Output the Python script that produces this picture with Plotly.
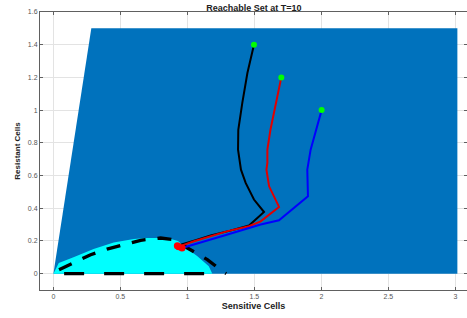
import plotly.graph_objects as go

# Reachable set (blue) polygon
reach_x = [0.0, 0.283, 3.015, 3.015, 0.0]
reach_y = [0.0, 1.5, 1.5, 0.0, 0.0]

# Target set (cyan) polygon
target_x = [0.0, 0.04, 0.15, 0.30, 0.45, 0.60, 0.70, 0.85, 0.93, 0.975, 1.075, 1.16, 1.186, 0.0]
target_y = [0.0, 0.065, 0.10, 0.15, 0.19, 0.212, 0.218, 0.218, 0.20, 0.167, 0.106, 0.045, 0.0, 0.0]

# Dashed boundary curve
bound_x = [0.042, 0.154, 0.278, 0.40, 0.527, 0.651, 0.80, 0.90, 1.0, 1.149, 1.273, 1.29]
bound_y = [0.024, 0.069, 0.116, 0.15, 0.177, 0.204, 0.218, 0.208, 0.157, 0.086, 0.008, 0.0]
base_x = [0.08, 1.16]
base_y = [0.0, 0.0]

# Trajectories
black_x = [1.497, 1.448, 1.41, 1.38, 1.378, 1.40, 1.435, 1.497, 1.572, 1.46, 1.32, 1.174, 1.05, 0.95, 0.925]
black_y = [1.40, 1.227, 1.044, 0.88, 0.758, 0.636, 0.555, 0.453, 0.377, 0.294, 0.263, 0.234, 0.202, 0.177, 0.171]
red_x = [1.701, 1.66, 1.62, 1.597, 1.597, 1.59, 1.61, 1.684, 1.547, 1.46, 1.30, 1.05, 0.95, 0.935]
red_y = [1.20, 1.044, 0.88, 0.758, 0.677, 0.636, 0.534, 0.408, 0.32, 0.29, 0.26, 0.198, 0.168, 0.165]
blue_x = [2.002, 1.945, 1.92, 1.895, 1.90, 1.684, 1.547, 1.30, 1.05, 0.96]
blue_y = [1.0, 0.82, 0.758, 0.636, 0.473, 0.326, 0.30, 0.239, 0.177, 0.157]

x_ticks = [0, 0.5, 1, 1.5, 2, 2.5, 3]
x_tick_text = ["0", "0.5", "1", "1.5", "2", "2.5", "3"]
y_ticks = [0, 0.2, 0.4, 0.6, 0.8, 1.0, 1.2, 1.4, 1.6]
y_tick_text = ["0", "0.2", "0.4", "0.6", "0.8", "1", "1.2", "1.4", "1.6"]

fig = go.Figure()
fig.add_trace(go.Scatter(x=reach_x, y=reach_y, fill="toself", fillcolor="#0072BD",
                         mode="lines", line=dict(width=0, color="#0072BD"), hoverinfo="skip"))
fig.add_trace(go.Scatter(x=target_x, y=target_y, fill="toself", fillcolor="#00FFFF",
                         mode="lines", line=dict(width=0, color="#00FFFF"), hoverinfo="skip"))
fig.add_trace(go.Scatter(x=bound_x, y=bound_y, mode="lines",
                         line=dict(color="black", width=3.3, dash="14px,12px")))
fig.add_trace(go.Scatter(x=base_x, y=base_y, mode="lines",
                         line=dict(color="black", width=3.3, dash="20px,20px")))

for tx, ty, col in [(black_x, black_y, "black"), (red_x, red_y, "#E00000"), (blue_x, blue_y, "#0000FF")]:
    fig.add_trace(go.Scatter(x=tx, y=ty, mode="lines", line=dict(color=col, width=2)))

fig.add_trace(go.Scatter(x=[black_x[0], red_x[0], blue_x[0]], y=[black_y[0], red_y[0], blue_y[0]],
                         mode="markers", marker=dict(color="#00FF00", size=6, line=dict(width=0))))
fig.add_trace(go.Scatter(x=[black_x[-1], red_x[-1], blue_x[-1]], y=[black_y[-1], red_y[-1], blue_y[-1]],
                         mode="markers", marker=dict(color="#FF0000", size=7, line=dict(width=0))))

axis_common = dict(showgrid=True, gridcolor="#e3e3e3", gridwidth=1, zeroline=False,
                   showline=True, linecolor="#606060", linewidth=1, mirror="ticks",
                   ticks="inside", ticklen=3, tickcolor="#606060", automargin=False,
                   tickfont=dict(family="Liberation Sans, Arial", size=7, color="#555555"))

fig.update_layout(
    width=467, height=318,
    margin=dict(l=40, r=0, t=12, b=28, autoexpand=False),
    paper_bgcolor="white", plot_bgcolor="white",
    showlegend=False,
    hovermode=False,
    title=dict(text="<b>Reachable Set at T=10</b>", x=0.5436, xanchor="center",
               y=0.985, yanchor="top", yref="container",
               font=dict(family="Liberation Sans, Arial", size=9, color="#222222")),
    xaxis=dict(range=[-0.1, 3.087], tickvals=x_ticks, ticktext=x_tick_text,
               title=dict(text="<b>Sensitive Cells</b>", standoff=3,
                          font=dict(family="Liberation Sans, Arial", size=9, color="#222222")),
               **axis_common),
    yaxis=dict(range=[-0.1, 1.6], tickvals=y_ticks, ticktext=y_tick_text,
               title=dict(text="<b>Resistant Cells</b>", standoff=6,
                          font=dict(family="Liberation Sans, Arial", size=8, color="#222222")),
               **axis_common),
)

fig.write_html("out.html", config={"displayModeBar": False},
               post_script="document.body.style.margin='0';")
